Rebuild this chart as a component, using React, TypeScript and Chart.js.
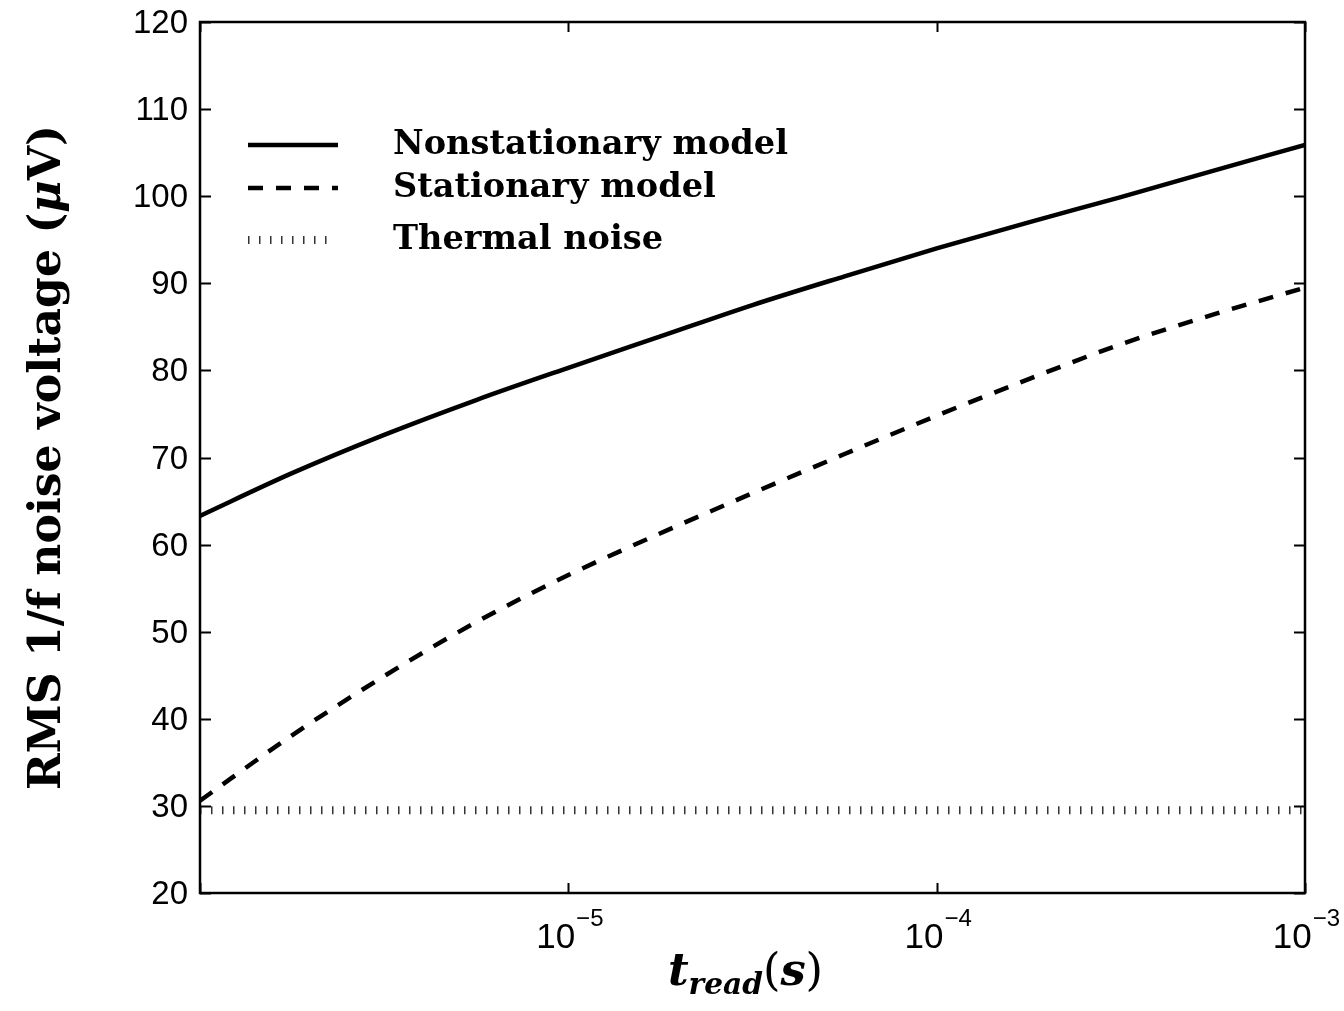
import React, { useEffect, useRef } from "react";
import { Chart, registerables } from "chart.js";

Chart.register(...registerables);

// ---- data ----
const tRead = [
  1e-6, 1.778e-6, 3.162e-6, 5.623e-6, 1e-5, 1.778e-5, 3.162e-5, 5.623e-5, 1e-4,
  1.778e-4, 3.162e-4, 5.623e-4, 1e-3,
];
const nonstationary = [63.3, 68.2, 72.6, 76.6, 80.3, 83.9, 87.5, 90.8, 94.0, 97.0, 99.9, 102.9, 105.9];
const stationary = [30.6, 38.1, 44.9, 51.1, 56.5, 61.3, 65.9, 70.4, 74.8, 79.0, 83.0, 86.4, 89.5];
const thermalLevel = 29.5;
const thermalRange = [1e-6, 1e-3];

const seriesNames = ["Nonstationary model", "Stationary model", "Thermal noise"];
const yTicks = [20, 30, 40, 50, 60, 70, 80, 90, 100, 110, 120];
const xTicks = [1e-6, 1e-5, 1e-4, 1e-3];
const xTickExponents = ["\u22126", "\u22125", "\u22124", "\u22123"];
const xTickLabeled = [false, true, true, true];

const SERIF = '"DejaVu Serif"';
const SANS = '"Liberation Sans"';

type Part = { t: string; f: string; size?: number; dy?: number };

function measureParts(ctx: CanvasRenderingContext2D, parts: Part[], size: number) {
  let w = 0;
  for (const p of parts) {
    ctx.font = `${p.f} ${Math.round((p.size ?? 1) * size * 10) / 10}px ${SERIF}`;
    w += ctx.measureText(p.t).width;
  }
  return w;
}

function fitSize(ctx: CanvasRenderingContext2D, parts: Part[], target: number) {
  const base = 40;
  return (base * target) / measureParts(ctx, parts, base);
}

function drawParts(ctx: CanvasRenderingContext2D, parts: Part[], size: number, x: number, y: number) {
  let cx = x;
  for (const p of parts) {
    ctx.font = `${p.f} ${Math.round((p.size ?? 1) * size * 10) / 10}px ${SERIF}`;
    ctx.fillText(p.t, cx, y + (p.dy ?? 0) * size);
    cx += ctx.measureText(p.t).width;
  }
}

const decorPlugin = {
  id: "decor",
  afterDraw(chart: any) {
    const { ctx, chartArea: a } = chart;
    const xs = chart.scales.x;
    const ys = chart.scales.y;
    ctx.save();
    ctx.fillStyle = "#000";
    ctx.strokeStyle = "#000";

    // inward ticks
    ctx.lineWidth = 2;
    ctx.lineCap = "butt";
    ctx.beginPath();
    for (const v of yTicks) {
      const py = Math.round(ys.getPixelForValue(v)) + 0.5;
      ctx.moveTo(a.left, py);
      ctx.lineTo(a.left + 11, py);
      ctx.moveTo(a.right, py);
      ctx.lineTo(a.right - 11, py);
    }
    for (const v of xTicks) {
      const px = Math.round(xs.getPixelForValue(v)) + 0.5;
      ctx.moveTo(px, a.bottom);
      ctx.lineTo(px, a.bottom - 10);
      ctx.moveTo(px, a.top);
      ctx.lineTo(px, a.top + 10);
    }
    ctx.stroke();

    // frame
    ctx.lineWidth = 2.5;
    ctx.strokeRect(a.left, a.top, a.right - a.left, a.bottom - a.top);

    // y tick labels
    ctx.font = `33px ${SANS}`;
    ctx.textAlign = "right";
    ctx.textBaseline = "middle";
    for (const v of yTicks) {
      ctx.fillText(String(v), a.left - 12, ys.getPixelForValue(v) + 2);
    }

    // x tick labels: 10^e
    ctx.textAlign = "left";
    ctx.textBaseline = "alphabetic";
    xTicks.forEach((v, i) => {
      if (!xTickLabeled[i]) return;
      const px = xs.getPixelForValue(v);
      ctx.font = `35px ${SANS}`;
      const w1 = ctx.measureText("10").width;
      ctx.font = `24px ${SANS}`;
      const w2 = ctx.measureText(xTickExponents[i]).width;
      const x0 = px - (w1 + w2) / 2 + 1;
      ctx.font = `35px ${SANS}`;
      ctx.fillText("10", x0, a.bottom + 55);
      ctx.font = `24px ${SANS}`;
      ctx.fillText(xTickExponents[i], x0 + w1 + 1, a.bottom + 33);
    });

    // x title: t_read(s)
    const xParts: Part[] = [
      { t: "t", f: "italic bold" },
      { t: "read", f: "italic bold", size: 0.66, dy: 0.2 },
      { t: "(", f: "" },
      { t: "s", f: "italic bold" },
      { t: ")", f: "" },
    ];
    const xSize = fitSize(ctx, xParts, 155);
    const xw = measureParts(ctx, xParts, xSize);
    drawParts(ctx, xParts, xSize, (a.left + a.right) / 2 - 7 - xw / 2, a.bottom + 92);

    // y title
    const yParts: Part[] = [
      { t: "RMS 1/f noise voltage (", f: "bold" },
      { t: "\u03bc", f: "italic bold" },
      { t: "V)", f: "bold" },
    ];
    const ySize = fitSize(ctx, yParts, 665);
    const yw = measureParts(ctx, yParts, ySize);
    ctx.save();
    ctx.translate(60, (a.top + a.bottom) / 2);
    ctx.rotate(-Math.PI / 2);
    drawParts(ctx, yParts, ySize, -yw / 2, 0);
    ctx.restore();

    // legend (inside, top-left, no box)
    const legSize = fitSize(ctx, [{ t: seriesNames[0], f: "bold" }], 395);
    const rows = [123, 166, 218];
    chart.data.datasets.forEach((ds: any, i: number) => {
      const ry = a.top + rows[i];
      ctx.save();
      ctx.strokeStyle = ds.borderColor;
      ctx.lineWidth = ds.borderWidth;
      ctx.lineCap = "butt";
      ctx.setLineDash(ds.borderDash || []);
      ctx.beginPath();
      ctx.moveTo(a.left + 48, ry);
      ctx.lineTo(a.left + (i === 2 ? 128 : 138), ry);
      ctx.stroke();
      ctx.restore();
      ctx.textBaseline = "middle";
      ctx.font = `bold ${legSize}px ${SERIF}`;
      ctx.fillText(ds.label, a.left + 193, ry);
    });

    ctx.restore();
  },
};

export default function App() {
  const ref = useRef<HTMLCanvasElement | null>(null);

  useEffect(() => {
    if (!ref.current) return;
    const chart = new Chart(ref.current, {
      type: "line",
      data: {
        datasets: [
          {
            label: seriesNames[0],
            data: tRead.map((t, i) => ({ x: t, y: nonstationary[i] })),
            borderColor: "#000",
            borderWidth: 4.5,
            pointRadius: 0,
            cubicInterpolationMode: "monotone",
          },
          {
            label: seriesNames[1],
            data: tRead.map((t, i) => ({ x: t, y: stationary[i] })),
            borderColor: "#000",
            borderWidth: 4.5,
            borderDash: [15, 13],
            borderCapStyle: "butt",
            pointRadius: 0,
            cubicInterpolationMode: "monotone",
          },
          {
            label: seriesNames[2],
            data: thermalRange.map((t) => ({ x: t, y: thermalLevel })),
            borderColor: "#333",
            borderWidth: 8,
            borderDash: [1.5, 9.5],
            borderCapStyle: "butt",
            pointRadius: 0,
          },
        ],
      },
      options: {
        animation: false,
        responsive: false,
        devicePixelRatio: 1,
        layout: { padding: { left: 200, top: 22, right: 39, bottom: 118 } },
        plugins: { legend: { display: false }, tooltip: { enabled: false } },
        scales: {
          x: { type: "logarithmic", min: 1e-6, max: 1e-3, display: false },
          y: { type: "linear", min: 20, max: 120, display: false },
        },
      },
      plugins: [decorPlugin],
    } as any);
    return () => chart.destroy();
  }, []);

  return (
    <div style={{ position: "fixed", left: 0, top: 0, width: 1344, height: 1011, background: "#fff" }}>
      <canvas ref={ref} width={1344} height={1011} style={{ display: "block" }} />
    </div>
  );
}
